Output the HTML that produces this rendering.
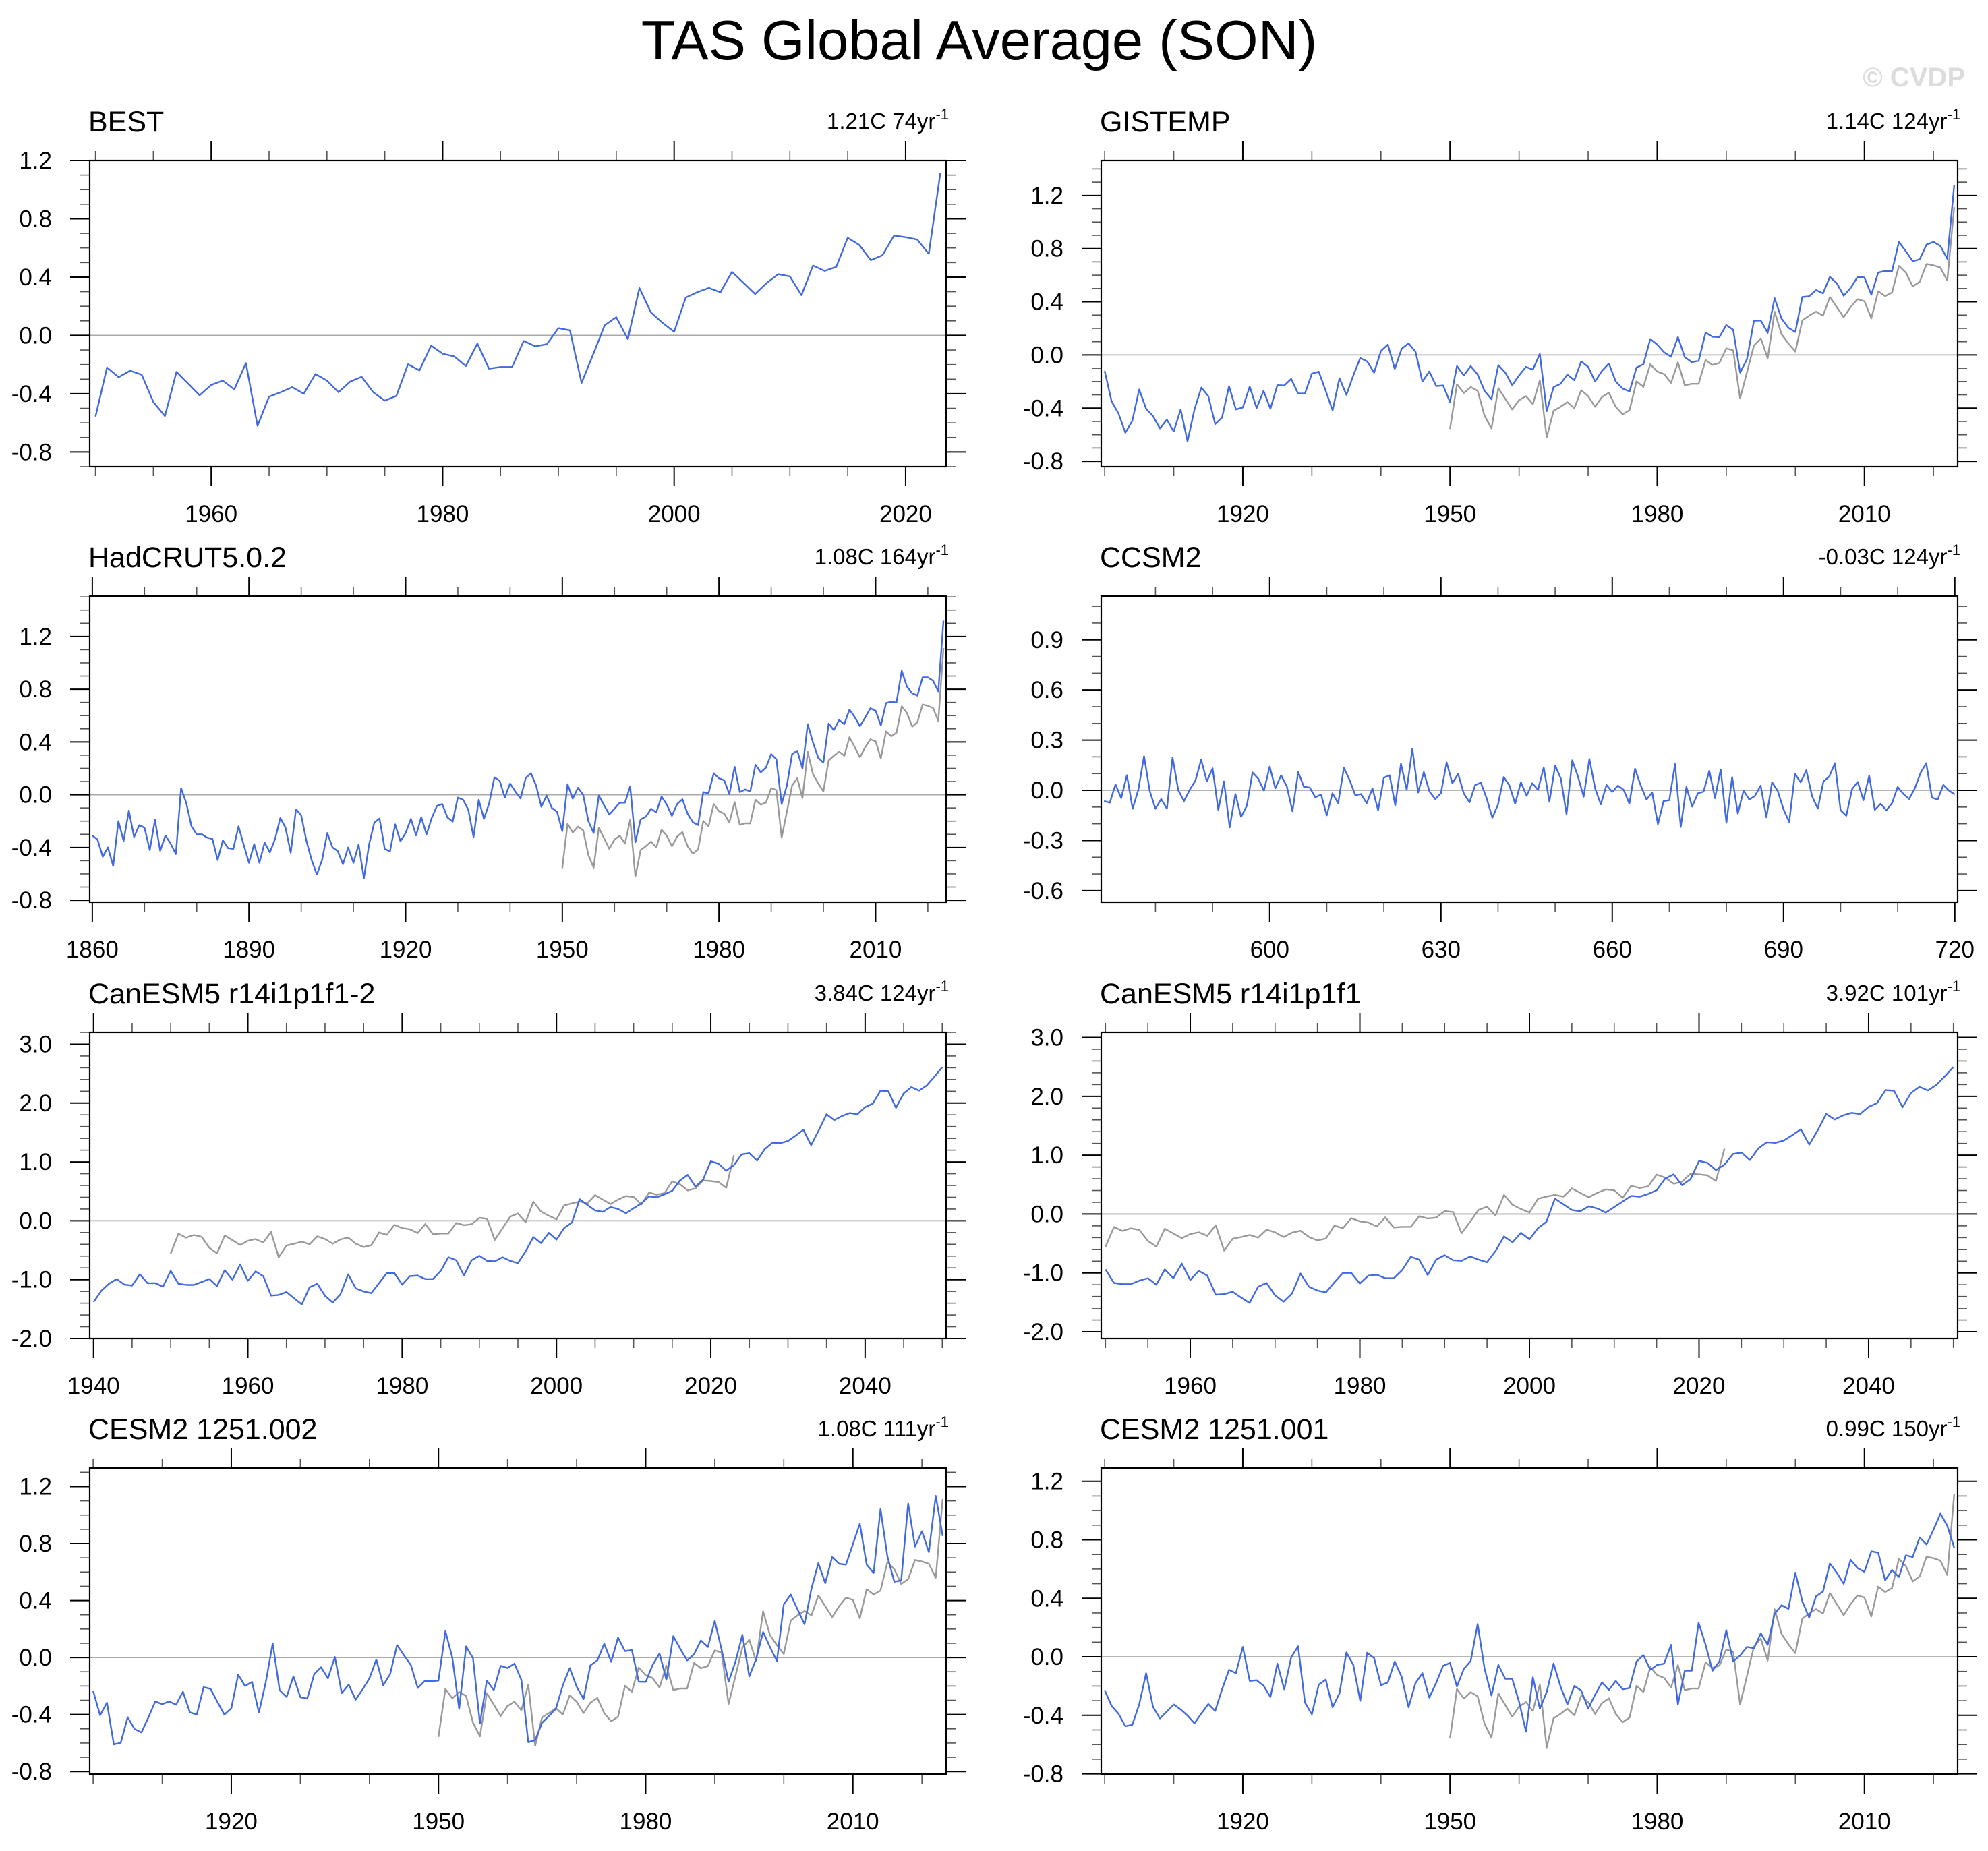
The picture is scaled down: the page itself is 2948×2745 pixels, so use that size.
<!DOCTYPE html>
<html><head><meta charset="utf-8"><title>TAS Global Average (SON)</title>
<style>html,body{margin:0;padding:0;background:#fff}svg{display:block}text{font-family:"Liberation Sans",Arial,sans-serif}</style>
</head><body>
<svg id="chart" width="2948" height="2745" viewBox="0 0 2948 2745" xmlns="http://www.w3.org/2000/svg">
<rect width="2948" height="2745" fill="#fff"/>
<text x="1452" y="88" text-anchor="middle" font-size="83" fill="#000">TAS Global Average (SON)</text>
<text x="2914" y="128" text-anchor="end" font-size="40" font-weight="bold" fill="#dcdcdc">© CVDP</text>
</svg>
<script>
const bestStartYear = 1950;
const bestValues = [-0.557,-0.22,-0.286,-0.242,-0.27,-0.457,-0.553,-0.25,-0.33,-0.41,-0.34,-0.31,-0.37,-0.19,-0.62,-0.42,-0.39,-0.355,-0.40,-0.265,-0.31,-0.39,-0.317,-0.284,-0.39,-0.447,-0.415,-0.198,-0.24,-0.07,-0.125,-0.144,-0.21,-0.056,-0.228,-0.217,-0.217,-0.038,-0.075,-0.06,0.05,0.035,-0.326,-0.13,0.07,0.125,-0.025,0.325,0.157,0.086,0.025,0.26,0.296,0.326,0.296,0.436,0.36,0.284,0.36,0.42,0.405,0.276,0.48,0.443,0.47,0.67,0.62,0.516,0.55,0.685,0.674,0.658,0.56,1.113];
const gistempStartYear = 1900;
const gistempValues = [-0.12,-0.35,-0.44,-0.585,-0.495,-0.26,-0.405,-0.46,-0.553,-0.486,-0.575,-0.41,-0.65,-0.41,-0.245,-0.31,-0.52,-0.47,-0.235,-0.41,-0.395,-0.238,-0.40,-0.27,-0.405,-0.227,-0.23,-0.18,-0.29,-0.29,-0.14,-0.126,-0.27,-0.417,-0.175,-0.30,-0.154,-0.023,-0.048,-0.133,0.03,0.078,-0.105,0.046,0.088,0.025,-0.2,-0.124,-0.234,-0.23,-0.354,-0.084,-0.154,-0.084,-0.147,-0.27,-0.333,-0.076,-0.133,-0.227,-0.154,-0.09,-0.11,0.008,-0.423,-0.242,-0.217,-0.147,-0.19,-0.048,-0.09,-0.2,-0.12,-0.065,-0.2,-0.253,-0.274,-0.095,-0.07,0.12,0.078,0.02,-0.013,0.135,-0.017,-0.053,-0.044,0.168,0.137,0.135,0.225,0.19,-0.133,-0.032,0.257,0.26,0.166,0.427,0.274,0.204,0.173,0.436,0.442,0.488,0.463,0.587,0.54,0.446,0.503,0.587,0.583,0.453,0.62,0.632,0.63,0.85,0.78,0.705,0.72,0.83,0.85,0.82,0.724,1.278];
const hadcrutStartYear = 1860;
const hadcrutValues = [-0.31,-0.34,-0.47,-0.40,-0.54,-0.20,-0.35,-0.12,-0.32,-0.23,-0.25,-0.42,-0.19,-0.425,-0.31,-0.37,-0.45,0.05,-0.064,-0.24,-0.30,-0.30,-0.325,-0.335,-0.495,-0.346,-0.405,-0.41,-0.24,-0.38,-0.516,-0.374,-0.516,-0.363,-0.437,-0.336,-0.176,-0.25,-0.44,-0.11,-0.155,-0.35,-0.495,-0.605,-0.495,-0.29,-0.40,-0.427,-0.527,-0.40,-0.516,-0.378,-0.633,-0.378,-0.212,-0.18,-0.41,-0.43,-0.225,-0.353,-0.29,-0.183,-0.308,-0.17,-0.30,-0.176,-0.085,-0.07,-0.172,-0.204,-0.021,-0.038,-0.113,-0.32,-0.038,-0.183,-0.064,0.132,0.106,-0.021,0.085,0.025,-0.028,0.127,0.163,0.068,-0.091,-0.006,-0.10,-0.13,-0.276,0.08,-0.03,0.053,0.0,-0.2,-0.29,-0.006,-0.08,-0.15,-0.106,-0.06,-0.06,0.064,-0.36,-0.187,-0.166,-0.106,-0.134,-0.013,-0.074,-0.16,-0.07,-0.034,-0.144,-0.208,-0.23,0.02,0.01,0.163,0.125,0.11,0.004,0.212,0.02,0.04,0.025,0.227,0.17,0.206,0.308,0.27,-0.07,0.068,0.308,0.333,0.2,0.535,0.397,0.28,0.244,0.54,0.49,0.567,0.535,0.646,0.588,0.52,0.586,0.656,0.637,0.525,0.695,0.705,0.70,0.94,0.82,0.77,0.752,0.89,0.89,0.865,0.784,1.32];
const ccsm2StartYear = 571;
const ccsm2Values = [-0.064,-0.074,0.035,-0.047,0.09,-0.11,0.003,0.204,-0.005,-0.11,-0.052,-0.11,0.196,0.0,-0.064,0.003,0.058,0.184,0.053,0.132,-0.117,0.053,-0.222,-0.022,-0.159,-0.092,0.107,0.07,-0.002,0.142,0.012,0.09,0.023,-0.125,0.109,0.02,0.017,-0.042,-0.025,-0.15,-0.018,-0.077,0.134,0.062,-0.03,-0.022,-0.077,0.012,-0.119,0.075,0.09,-0.089,0.159,0.003,0.249,-0.013,0.109,-0.008,-0.052,-0.017,0.167,0.042,0.099,-0.018,-0.072,0.032,0.045,-0.047,-0.164,-0.085,0.079,0.028,-0.08,0.048,-0.033,0.042,0.003,0.137,-0.069,0.149,0.07,-0.142,0.179,0.082,-0.038,0.187,0.012,-0.084,0.032,-0.01,0.028,0.003,-0.08,0.129,0.028,-0.055,-0.013,-0.202,-0.064,-0.059,0.157,-0.219,0.02,-0.097,-0.018,-0.008,0.117,-0.047,0.125,-0.194,0.079,-0.139,-0.002,-0.055,-0.033,0.028,-0.161,0.048,-0.005,-0.114,-0.189,0.099,0.048,0.12,-0.035,-0.109,0.053,0.082,0.162,-0.119,-0.152,0.007,0.05,-0.059,0.087,-0.117,-0.08,-0.119,-0.077,0.02,-0.022,-0.052,0.012,0.104,0.162,-0.043,-0.055,0.032,-0.002,-0.025];
const canesm2StartYear = 1940;
const canesm2Values = [-1.38,-1.19,-1.07,-0.99,-1.085,-1.10,-0.91,-1.06,-1.06,-1.12,-0.85,-1.07,-1.09,-1.09,-1.04,-0.99,-1.11,-0.84,-1.0,-0.74,-1.02,-0.86,-0.94,-1.27,-1.26,-1.21,-1.32,-1.42,-1.13,-1.07,-1.275,-1.39,-1.25,-0.91,-1.15,-1.20,-1.23,-1.06,-0.89,-0.89,-1.085,-0.94,-0.93,-0.99,-0.99,-0.85,-0.62,-0.67,-0.93,-0.67,-0.595,-0.68,-0.69,-0.62,-0.68,-0.72,-0.52,-0.276,-0.38,-0.205,-0.32,-0.124,-0.03,0.366,0.27,0.176,0.152,0.233,0.2,0.128,0.214,0.295,0.414,0.4,0.45,0.51,0.685,0.78,0.58,0.70,1.01,0.97,0.85,0.947,1.128,1.147,1.023,1.22,1.327,1.318,1.356,1.446,1.546,1.284,1.54,1.81,1.71,1.78,1.83,1.81,1.93,1.99,2.21,2.20,1.92,2.165,2.27,2.21,2.30,2.45,2.61];
const canesm1StartYear = 1950;
const canesm1Values = [-0.94,-1.17,-1.19,-1.19,-1.13,-1.09,-1.20,-0.94,-1.09,-0.84,-1.12,-0.965,-1.045,-1.37,-1.36,-1.32,-1.42,-1.51,-1.235,-1.17,-1.38,-1.49,-1.35,-1.01,-1.235,-1.30,-1.33,-1.16,-1.0,-1.0,-1.18,-1.045,-1.03,-1.09,-1.09,-0.95,-0.727,-0.774,-1.035,-0.774,-0.70,-0.784,-0.793,-0.72,-0.774,-0.817,-0.627,-0.38,-0.48,-0.318,-0.43,-0.24,-0.133,0.261,0.166,0.07,0.047,0.133,0.095,0.024,0.119,0.214,0.31,0.295,0.342,0.404,0.603,0.675,0.49,0.594,0.903,0.87,0.746,0.84,1.02,1.045,0.917,1.116,1.22,1.21,1.25,1.34,1.44,1.18,1.425,1.70,1.606,1.677,1.72,1.70,1.82,1.886,2.105,2.095,1.815,2.057,2.16,2.10,2.195,2.342,2.50];
const cesm002StartYear = 1900;
const cesm002Values = [-0.234,-0.405,-0.317,-0.61,-0.598,-0.419,-0.502,-0.526,-0.419,-0.308,-0.327,-0.308,-0.331,-0.24,-0.384,-0.40,-0.208,-0.22,-0.312,-0.40,-0.356,-0.12,-0.20,-0.171,-0.386,-0.171,0.10,-0.23,-0.277,-0.132,-0.278,-0.288,-0.117,-0.068,-0.146,0.004,-0.25,-0.19,-0.296,-0.224,-0.146,-0.014,-0.195,-0.117,0.088,0.016,-0.053,-0.214,-0.165,-0.165,-0.162,0.185,0.0,-0.36,0.078,-0.004,-0.463,-0.162,-0.228,-0.058,-0.074,-0.043,-0.156,-0.594,-0.58,-0.458,-0.409,-0.36,-0.195,-0.074,-0.204,-0.292,-0.055,-0.02,0.097,-0.03,0.14,0.045,0.053,-0.17,-0.171,-0.053,0.029,-0.156,0.15,0.062,-0.02,0.023,0.12,0.074,0.257,0.055,-0.17,-0.03,0.16,-0.132,-0.01,0.18,0.074,-0.025,0.374,0.442,0.337,0.234,0.483,0.662,0.522,0.705,0.658,0.652,0.795,0.939,0.652,0.594,1.042,0.71,0.532,0.541,1.08,0.779,0.886,0.74,1.135,0.853];
const cesm001StartYear = 1900;
const cesm001Values = [-0.228,-0.336,-0.389,-0.474,-0.465,-0.326,-0.112,-0.342,-0.421,-0.374,-0.326,-0.36,-0.402,-0.455,-0.387,-0.323,-0.37,-0.222,-0.089,-0.112,0.068,-0.165,-0.16,-0.197,-0.275,-0.047,-0.222,-0.004,0.072,-0.313,-0.393,-0.19,-0.156,-0.345,-0.25,0.03,-0.055,-0.302,0.028,-0.008,-0.194,-0.175,-0.032,-0.137,-0.345,-0.18,-0.112,-0.279,-0.178,-0.061,-0.042,-0.203,-0.083,-0.028,0.224,-0.08,-0.264,-0.055,-0.15,-0.15,-0.307,-0.512,-0.14,-0.355,-0.241,-0.046,-0.203,-0.326,-0.199,-0.231,-0.355,-0.26,-0.175,-0.226,-0.165,-0.222,-0.213,-0.032,0.011,-0.089,-0.055,-0.047,0.082,-0.326,-0.095,-0.095,0.233,0.082,-0.095,-0.032,0.182,-0.032,0.009,0.068,0.059,0.161,0.082,0.294,0.353,0.328,0.575,0.38,0.268,0.414,0.446,0.638,0.575,0.499,0.664,0.607,0.581,0.721,0.712,0.524,0.594,0.546,0.694,0.683,0.816,0.768,0.869,0.979,0.897,0.746];
const panelTitles = ["BEST","GISTEMP","HadCRUT5.0.2","CCSM2","CanESM5 r14i1p1f1-2","CanESM5 r14i1p1f1","CESM2 1251.002","CESM2 1251.001"];
const trendLabels = ["1.21C 74yr","1.14C 124yr","1.08C 164yr","-0.03C 124yr","3.84C 124yr","3.92C 101yr","1.08C 111yr","0.99C 150yr"];

const NS = "http://www.w3.org/2000/svg";
const svg = document.getElementById('chart');
const colX = [[133,1403],[1633,2903]];
const rowY = [[238,692],[884,1338],[1531,1985],[2177,2631]];
const panels = [
 {v:bestValues,s:bestStartYear,ref:false,xr:[1949.5,2023.5],xmaj:20,xmin:5,xbase:1960,yr:[-0.9,1.2],ymaj:0.4,ymin:0.1},
 {v:gistempValues,s:gistempStartYear,ref:true,xr:[1899.5,2023.5],xmaj:30,xmin:10,xbase:1920,yr:[-0.84,1.463],ymaj:0.4,ymin:0.1},
 {v:hadcrutValues,s:hadcrutStartYear,ref:true,xr:[1859.5,2023.5],xmaj:30,xmin:10,xbase:1860,yr:[-0.815,1.506],ymaj:0.4,ymin:0.1},
 {v:ccsm2Values,s:ccsm2StartYear,ref:false,xr:[570.5,720.5],xmaj:30,xmin:10,xbase:600,yr:[-0.669,1.161],ymaj:0.3,ymin:0.1},
 {v:canesm2Values,s:canesm2StartYear,ref:true,xr:[1939.5,2050.5],xmaj:20,xmin:5,xbase:1940,yr:[-2.0,3.2],ymaj:1.0,ymin:0.2},
 {v:canesm1Values,s:canesm1StartYear,ref:true,xr:[1949.5,2050.5],xmaj:20,xmin:5,xbase:1960,yr:[-2.114,3.086],ymaj:1.0,ymin:0.2},
 {v:cesm002Values,s:cesm002StartYear,ref:true,xr:[1899.5,2023.5],xmaj:30,xmin:10,xbase:1920,yr:[-0.818,1.33],ymaj:0.4,ymin:0.1},
 {v:cesm001Values,s:cesm001StartYear,ref:true,xr:[1899.5,2023.5],xmaj:30,xmin:10,xbase:1920,yr:[-0.802,1.291],ymaj:0.4,ymin:0.1}
];
function mk(tag, attrs, parent){const e=document.createElementNS(NS,tag);for(const k in attrs)e.setAttribute(k,attrs[k]);(parent||svg).appendChild(e);return e;}
function line(g,x1,y1,x2,y2,w,c){const l=mk('line',{x1:x1,y1:y1,x2:x2,y2:y2,stroke:c||'#000','stroke-width':w},g);

return l;}

panels.forEach((p,i)=>{
  const col=i%2,row=Math.floor(i/2);
  const L=colX[col][0],R=colX[col][1],T=rowY[row][0],B=rowY[row][1];
  const sx=x=>L+(x-p.xr[0])/(p.xr[1]-p.xr[0])*(R-L);
  const sy=y=>B-(y-p.yr[0])/(p.yr[1]-p.yr[0])*(B-T);
  const g=mk('g',{});
  
  
  const t=mk('text',{x:L-2,y:T-43,'font-size':43,fill:'#000'},g);t.textContent=panelTitles[i];
  
  
  const tr=mk('text',{x:R+4,y:T-47,'font-size':33,'text-anchor':'end',fill:'#000'},g);
  
  
  tr.appendChild(document.createTextNode(trendLabels[i]));
  const sup=mk('tspan',{'font-size':22,dy:-14},tr);sup.textContent='-1';
  const k0=Math.ceil(p.xr[0]/p.xmin),k1=Math.floor(p.xr[1]/p.xmin);
  for(let k=k0;k<=k1;k++){
    const yv=k*p.xmin,x=sx(yv);
    const major=((yv-p.xbase)%p.xmaj+p.xmaj)%p.xmaj===0;
    const len=major?29:14,c=major?'#000':'#555';
    line(g,x,B,x,B+len,major?2:1.6,c);
    line(g,x,T,x,T-len,major?2:1.6,c);
    if(major){const lt=mk('text',{x:x,y:B+82,'font-size':35,'text-anchor':'middle',fill:'#000'},g);lt.textContent=String(yv);
      
      }
  }
  const j0=Math.ceil(p.yr[0]/p.ymin-1e-6),j1=Math.floor(p.yr[1]/p.ymin+1e-6);
  const ratio=Math.round(p.ymaj/p.ymin);
  for(let j=j0;j<=j1;j++){
    const v=j*p.ymin,y=sy(v);
    const major=j%ratio===0;
    const len=major?29:14,c=major?'#000':'#555';
    line(g,L,y,L-len,y,major?2:1.6,c);
    line(g,R,y,R+len,y,major?2:1.6,c);
    if(major){const lt=mk('text',{x:L-56,y:y+12,'font-size':35,'text-anchor':'end',fill:'#000'},g);
      let s=(Math.round(v*10)/10).toFixed(1);if(s==='-0.0')s='0.0';lt.textContent=s;
      
      }
  }
  const z=mk('line',{x1:L,x2:R,y1:sy(0),y2:sy(0),stroke:'#aaa','stroke-width':1.8},g);
  
  
  if(p.ref){
    const pts=bestValues.map((v,n)=>sx(bestStartYear+n).toFixed(1)+','+sy(v).toFixed(1)).join(' ');
    const pl=mk('polyline',{points:pts,fill:'none',stroke:'#999','stroke-width':2.4,'stroke-linejoin':'round'},g);
    
    
  }
  const pts=p.v.map((v,n)=>sx(p.s+n).toFixed(1)+','+sy(v).toFixed(1)).join(' ');
  const pl=mk('polyline',{points:pts,fill:'none',stroke:'#4169e1','stroke-width':2.4,'stroke-linejoin':'round'},g);
  
  
  const box=mk('rect',{x:L,y:T,width:R-L,height:B-T,fill:'none',stroke:'#000','stroke-width':2.2},g);
  
  
});
</script>
</body></html>
